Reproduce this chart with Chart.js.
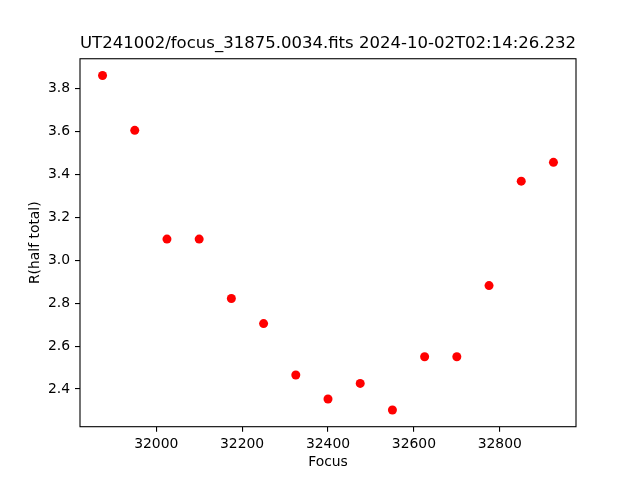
<!DOCTYPE html>
<html>
<head>
<meta charset="utf-8">
<script src="https://cdn.jsdelivr.net/npm/chart.js@4/dist/chart.umd.min.js"></script>
<style>
  html, body { margin: 0; padding: 0; background: #fff; }
  canvas { display: block; }
</style>
</head>
<body>
<canvas id="focusChart" width="640" height="480"></canvas>
<script>
// Focus positions and measured R(half total)
const focusValues = [31875, 31950, 32025, 32100, 32175, 32250, 32325, 32400, 32475, 32550, 32625, 32700, 32775, 32850, 32925];
const radiusValues = [3.862, 3.606, 3.099, 3.099, 2.822, 2.705, 2.465, 2.353, 2.426, 2.302, 2.550, 2.550, 2.882, 3.369, 3.457];

// Tick labels as shown on the axes
const xTicks = [32000, 32200, 32400, 32600, 32800];
const yTicks = [2.4, 2.6, 2.8, 3.0, 3.2, 3.4, 3.6, 3.8];

const font = "'DejaVu Sans', sans-serif";

// matplotlib style: 5% margin around the data
const pad = (arr) => {
  const lo = Math.min(...arr), hi = Math.max(...arr);
  const m = (hi - lo) * 0.05;
  return [lo - m, hi + m];
};
const [xMin, xMax] = pad(focusValues);
const [yMin, yMax] = pad(radiusValues);

// Draw the full box round the plot area
const frameBox = {
  id: "frameBox",
  afterDraw(chart) {
    const { ctx, chartArea: a } = chart;
    ctx.save();
    ctx.strokeStyle = "#000";
    ctx.lineWidth = 1.1;
    ctx.strokeRect(a.left, a.top, a.right - a.left, a.bottom - a.top);
    ctx.restore();
  },
};

const ctx = document.getElementById("focusChart");

new Chart(ctx, {
  type: "scatter",
  data: {
    datasets: [
      {
        data: focusValues.map((x, i) => ({ x: x, y: radiusValues[i] })),
        backgroundColor: "#ff0000",
        borderColor: "#ff0000",
        borderWidth: 0,
        pointRadius: 4.5,
        pointHoverRadius: 4.5,
      },
    ],
  },
  options: {
    responsive: false,
    animation: false,
    layout: {
      padding: { left: 0, right: 64, top: 0, bottom: 0 },
    },
    scales: {
      x: {
        type: "linear",
        min: xMin,
        max: xMax,
        afterBuildTicks: (scale) => {
          scale.ticks = xTicks.map((v) => ({ value: v }));
        },
        afterFit: (scale) => {
          scale.height = 53.3;
        },
        ticks: {
          color: "#000",
          font: { family: font, size: 13.9 },
          padding: 4,
          maxRotation: 0,
          callback: (v) => String(v),
        },
        grid: {
          drawOnChartArea: false,
          drawTicks: true,
          tickLength: 5,
          color: "#000",
          lineWidth: 1.1,
        },
        border: { display: false },
        title: {
          display: true,
          text: "Focus",
          color: "#000",
          font: { family: font, size: 13.9 },
          padding: { top: 0, bottom: 9.7 },
        },
      },
      y: {
        type: "linear",
        min: yMin,
        max: yMax,
        afterBuildTicks: (scale) => {
          scale.ticks = yTicks.map((v) => ({ value: v }));
        },
        afterFit: (scale) => {
          scale.width = 80;
        },
        ticks: {
          color: "#000",
          font: { family: font, size: 13.9 },
          padding: 5,
          callback: (v) => v.toFixed(1),
        },
        grid: {
          drawOnChartArea: false,
          drawTicks: true,
          tickLength: 5,
          color: "#000",
          lineWidth: 1.1,
        },
        border: { display: false },
        title: {
          display: true,
          text: "R(half total)",
          color: "#000",
          font: { family: font, size: 13.9 },
          padding: { top: 26.7, bottom: 0 },
        },
      },
    },
    plugins: {
      legend: { display: false },
      tooltip: { enabled: false },
      title: {
        display: true,
        fullSize: false,
        text: "UT241002/focus_31875.0034.fits 2024-10-02T02:14:26.232",
        color: "#000",
        font: { family: font, size: 16.7, weight: "normal" },
        padding: { top: 34, bottom: 4.7 },
      },
    },
  },
  plugins: [frameBox],
});
</script>
</body>
</html>
